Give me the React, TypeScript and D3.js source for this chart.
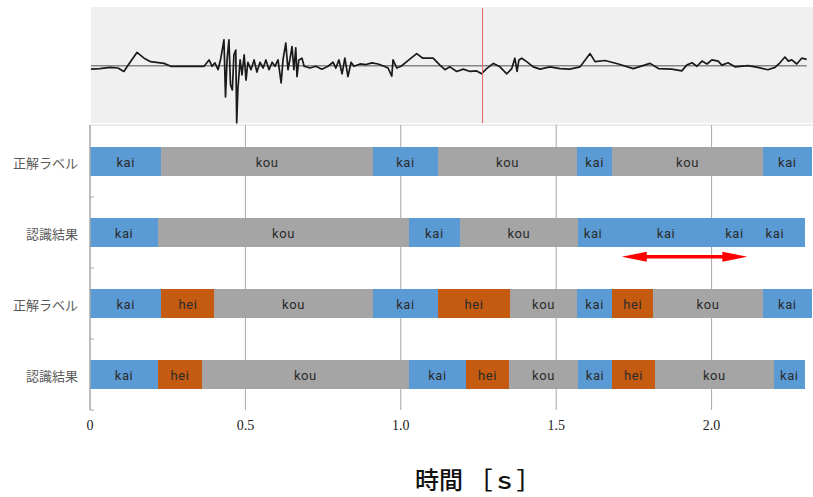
import React from "react";
import * as d3 from "d3";

// ---- data ----
const rowNames = ["正解ラベル", "認識結果", "正解ラベル", "認識結果"];

const row1Labels = ["kai", "kou", "kai", "kou", "kai", "kou", "kai"];
const row1Bounds = [0, 0.23, 0.91, 1.12, 1.567, 1.68, 2.165, 2.322];

const row2Labels = ["kai", "kou", "kai", "kou", "kai", "kai", "kai", "kai"];
const row2Bounds = [0, 0.219, 1.026, 1.19, 1.57, 1.667, 2.04, 2.107, 2.3];

const row3Labels = ["kai", "hei", "kou", "kai", "hei", "kou", "kai", "hei", "kou", "kai"];
const row3Bounds = [0, 0.23, 0.4, 0.91, 1.12, 1.351, 1.567, 1.68, 1.812, 2.165, 2.322];

const row4Labels = ["kai", "hei", "kou", "kai", "hei", "kou", "kai", "hei", "kou", "kai"];
const row4Bounds = [0, 0.219, 0.36, 1.026, 1.21, 1.348, 1.57, 1.68, 1.818, 2.2, 2.3];

const xTicks = [0, 0.5, 1.0, 1.5, 2.0];
const xTickLabels = ["0", "0.5", "1.0", "1.5", "2.0"];

const arrowRange = [1.711, 2.115];
const cursorTime = 1.263;

// waveform samples: [time (s), normalized amplitude]
const waveT = [
  0.003, 0.032, 0.064, 0.09, 0.109, 0.129, 0.151, 0.174, 0.195, 0.238, 0.26, 0.306, 0.367, 0.383,
  0.393, 0.402, 0.412, 0.421, 0.431, 0.436, 0.441, 0.447, 0.452, 0.458, 0.463, 0.469, 0.472, 0.476,
  0.483, 0.489, 0.496, 0.502, 0.508, 0.518, 0.528, 0.537, 0.547, 0.557, 0.566, 0.576, 0.586, 0.595,
  0.605, 0.615, 0.621, 0.63, 0.637, 0.644, 0.65, 0.656, 0.662, 0.666, 0.672, 0.682, 0.689, 0.708,
  0.727, 0.746, 0.766, 0.782, 0.791, 0.801, 0.811, 0.82, 0.83, 0.84, 0.849, 0.869, 0.888, 0.907,
  0.927, 0.946, 0.959, 0.971, 0.975, 0.987, 1.001, 1.019, 1.033, 1.051, 1.071, 1.104, 1.126, 1.142,
  1.158, 1.18, 1.201, 1.223, 1.244, 1.26, 1.276, 1.298, 1.319, 1.341, 1.357, 1.367, 1.374, 1.38,
  1.389, 1.405, 1.426, 1.448, 1.48, 1.512, 1.544, 1.577, 1.609, 1.625, 1.657, 1.7, 1.748, 1.802,
  1.829, 1.872, 1.904, 1.92, 1.937, 1.953, 1.969, 1.985, 2.001, 2.021, 2.033, 2.053, 2.075, 2.117,
  2.149, 2.181, 2.204, 2.22, 2.236, 2.247, 2.258, 2.274, 2.29, 2.306,
];
const waveA = [
  -0.06, -0.05, -0.03, -0.04, -0.1, 0.06, 0.23, 0.13, 0.07, 0.04, -0.01, -0.01, -0.01, 0.1,
  -0.01, 0.05, -0.07, 0.13, 0.45, -0.54, 0.1, 0.45, -0.33, -0.42, 0.19, 0.27, -0.99, -0.39,
  0.1, -0.16, 0.19, -0.25, 0.06, -0.07, 0.1, -0.11, 0.06, -0.04, 0.1, -0.07, 0.06, -0.01,
  0.1, -0.3, 0.1, 0.39, -0.07, 0.13, 0.33, -0.07, 0.31, -0.19, 0.1, 0.13, -0.01, -0.04,
  -0.01, -0.06, -0.01, 0.06, -0.04, 0.1, -0.14, 0.13, -0.19, 0.06, -0.01, 0.03, 0.02, 0.05,
  0.03, -0.01, -0.04, -0.18, 0.1, -0.04, -0.01, 0.07, 0.13, 0.21, 0.13, 0.13, 0.01, -0.07,
  -0.02, -0.1, -0.06, -0.1, -0.09, -0.14, -0.05, 0.04, -0.02, -0.14, -0.05, 0.13, -0.1, 0.1,
  0.13, 0.07, -0.02, -0.06, -0.02, -0.05, -0.06, -0.02, 0.21, 0.07, 0.09, 0.03, -0.05, 0.04,
  -0.05, -0.06, -0.09, 0.01, 0.05, -0.01, 0.08, 0.03, 0.1, 0.08, 0.01, 0.05, -0.02, 0.0,
  -0.03, -0.07, -0.03, 0.05, 0.15, 0.08, 0.1, 0.03, 0.13, 0.11,
];

const colorOf: Record<string, string> = {
  kai: "#5b9bd5",
  kou: "#a5a5a5",
  hei: "#c55a11",
};

export default function App() {
  const W = 813;
  const H = 497;
  const x = d3.scaleLinear().domain([0, 2.5]).range([90, 867]);
  const y = d3.scaleBand<number>().domain([0, 1, 2, 3]).range([126, 410]).paddingInner(0.6).paddingOuter(0.3);
  const plotTop = 125;
  const plotBottom = 410;

  const rows = [
    { labels: row1Labels, bounds: row1Bounds },
    { labels: row2Labels, bounds: row2Bounds },
    { labels: row3Labels, bounds: row3Bounds },
    { labels: row4Labels, bounds: row4Bounds },
  ];

  // waveform panel
  const wTop = 7;
  const wBottom = 123;
  const wy = d3.scaleLinear().domain([-1, 1]).range([123.4, 8]);
  const line = d3
    .line<number>()
    .x((_, i) => x(waveT[i]))
    .y((d) => wy(d));
  const wavePath = line(waveA) || "";

  const step = y.step();
  const bandEdges = [0, 1, 2, 3].map((i) => (y(i) as number) - step * 0.3).concat([plotBottom]);

  const ay = (y(1) as number) + y.bandwidth() + 10;
  const ax0 = x(arrowRange[0]);
  const ax1 = x(arrowRange[1]);
  const headL = 25;
  const headH = 5;
  const shaft = 1.8;
  const arrowPath = [
    `M${ax0},${ay}`,
    `L${ax0 + headL},${ay - headH}`,
    `L${ax0 + headL},${ay - shaft}`,
    `L${ax1 - headL},${ay - shaft}`,
    `L${ax1 - headL},${ay - headH}`,
    `L${ax1},${ay}`,
    `L${ax1 - headL},${ay + headH}`,
    `L${ax1 - headL},${ay + shaft}`,
    `L${ax0 + headL},${ay + shaft}`,
    `L${ax0 + headL},${ay + headH}`,
    "Z",
  ].join(" ");

  return (
    <svg
      width={W}
      height={H}
      style={{ position: "absolute", left: 0, top: 0, background: "#fff" }}
    >
      {/* waveform panel */}
      <rect x={x(0) + 0.7} y={wTop} width={W - x(0)} height={wBottom - wTop} fill="#f0f0f0" />
      <line x1={x(waveT[0])} x2={x(waveT[waveT.length - 1])} y1={wy(0)} y2={wy(0)} stroke="#858585" strokeWidth={1.4} />
      <path d={wavePath} fill="none" stroke="#1a1a1a" strokeWidth={1.7} strokeLinejoin="round" />
      <line x1={x(cursorTime)} x2={x(cursorTime)} y1={wTop + 1} y2={wBottom} stroke="#e36a6a" strokeWidth={1} />

      {/* plot top border */}
      <line x1={x(0)} x2={W} y1={plotTop} y2={plotTop} stroke="#d9d9d9" strokeWidth={1} />

      {/* gridlines */}
      {xTicks.slice(1).map((t) => (
        <line key={t} x1={x(t)} x2={x(t)} y1={plotTop} y2={plotBottom} stroke="#a6a6a6" strokeWidth={1} />
      ))}

      {/* bars */}
      {rows.map((r, ri) => (
        <g key={ri}>
          {r.labels.map((lab, si) => {
            const x0 = x(r.bounds[si]);
            const x1 = x(r.bounds[si + 1]);
            return (
              <rect
                key={si}
                x={x0}
                y={y(ri)}
                width={x1 - x0}
                height={y.bandwidth()}
                fill={colorOf[lab]}
                shapeRendering="crispEdges"
              />
            );
          })}
          {r.labels.map((lab, si) => {
            const cx = (x(r.bounds[si]) + x(r.bounds[si + 1])) / 2;
            return (
              <text
                key={"t" + si}
                x={cx}
                y={(y(ri) as number) + y.bandwidth() / 2 + 1}
                textAnchor="middle"
                dominantBaseline="central"
                fontFamily="Roboto, 'Noto Sans', sans-serif"
                fontSize={13}
                letterSpacing={0.6}
                fill="#2b2b2b"
              >
                {lab}
              </text>
            );
          })}
          <text
            x={78}
            y={(y(ri) as number) + y.bandwidth() / 2 + 1}
            textAnchor="end"
            dominantBaseline="central"
            fontFamily="'Noto Sans CJK JP', sans-serif"
            fontSize={13}
            fill="#595959"
          >
            {rowNames[ri]}
          </text>
        </g>
      ))}

      {/* y axis */}
      <line x1={x(0)} x2={x(0)} y1={plotTop} y2={plotBottom} stroke="#a6a6a6" strokeWidth={1.5} />
      {bandEdges.slice(1).map((e, i) => (
        <line key={i} x1={x(0)} x2={x(0) + 4} y1={e} y2={e} stroke="#a6a6a6" strokeWidth={1} />
      ))}

      {/* x tick labels */}
      {xTicks.map((t, i) => (
        <text
          key={t}
          x={x(t)}
          y={425}
          textAnchor="middle"
          dominantBaseline="central"
          fontFamily="'Liberation Serif', 'Times New Roman', serif"
          fontSize={14}
          fill="#222"
        >
          {xTickLabels[i]}
        </text>
      ))}

      {/* arrow */}
      <path d={arrowPath} fill="#ff0000" />

      {/* axis title */}
      <text
        x={415}
        y={478}
        textAnchor="start"
        dominantBaseline="central"
        fontFamily="'Noto Sans CJK JP', sans-serif"
        fontSize={24}
        fontWeight={500}
        fill="#111"
      >
        時間 ［ｓ］
      </text>
    </svg>
  );
}
